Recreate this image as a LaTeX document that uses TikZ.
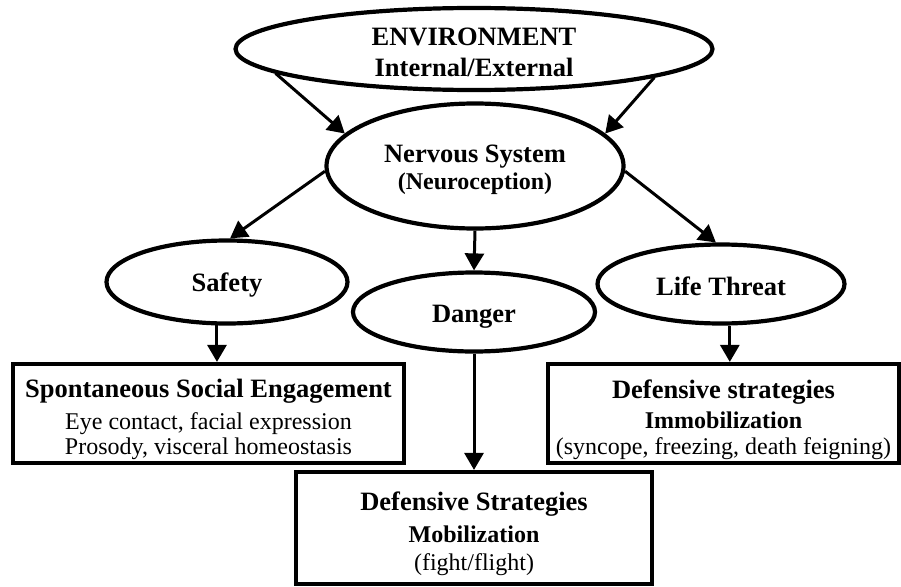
\documentclass[tikz,border=0pt]{standalone}
\usepackage{fontspec}
\setmainfont{Liberation Serif}
\usetikzlibrary{shapes.geometric,arrows.meta}
\newcommand{\bigline}{\fontsize{26.5}{27}\selectfont\bfseries}
\newcommand{\midbold}{\fontsize{24}{27}\selectfont\bfseries}
\newcommand{\midplain}{\fontsize{24}{27}\selectfont\mdseries}
\begin{document}
\begin{tikzpicture}[x=1pt,y=-1pt,
  txt/.style={inner sep=0pt,align=center,font=\fontsize{24}{27}\selectfont},
  oval/.style={ellipse,draw,line width=4.2pt,inner sep=0pt},
  panel/.style={rectangle,draw,line width=4.2pt,inner sep=0pt},
  flow/.style={line width=3pt,-{Triangle[length=17pt,width=19pt]}}]
\useasboundingbox (0,0) rectangle (901,586);

% ellipses, each with its text set at the centre
\node[oval,minimum width=477pt,minimum height=82pt,
  label={[txt,yshift=-3pt]center:{\bigline ENVIRONMENT\\[4pt]\bigline Internal/External}}]
  (env) at (474,49) {};
\node[oval,minimum width=297pt,minimum height=125pt,
  label={[txt,yshift=-4pt]center:{\bigline Nervous System\\[0pt]\midbold (Neuroception)}}]
  (nerv) at (475,166) {};
\node[oval,minimum width=241pt,minimum height=83pt,
  label={[txt,yshift=-3pt]center:{\bigline Safety}}]
  (safety) at (227,282) {};
\node[oval,minimum width=242pt,minimum height=79pt,
  label={[txt,yshift=-5pt]center:{\bigline Danger}}]
  (danger) at (474,312) {};
\node[oval,minimum width=247pt,minimum height=79pt,
  label={[txt,yshift=-2pt]center:{\bigline Life Threat}}]
  (life) at (721,284) {};

% boxes
\node[panel,minimum width=391pt,minimum height=99pt,
  label={[txt,yshift=-6pt]center:{\bigline Spontaneous Social Engagement\\[5pt]
   \midplain Eye contact, facial expression\\[-2pt]
   \midplain Prosody, visceral homeostasis}}]
  (social) at (208.5,413.5) {};
\node[panel,minimum width=356pt,minimum height=112pt,
  label={[txt,yshift=-6pt]center:{\bigline Defensive Strategies\\[5pt]
   \midbold Mobilization\\[1pt]
   \midplain (fight/flight)}}]
  (mobil) at (474,528) {};
\node[panel,minimum width=351pt,minimum height=99pt,
  label={[txt,yshift=-6pt]center:{\bigline Defensive strategies\\[3pt]
   \midbold Immobilization\\[-1pt]
   \midplain (syncope, freezing, death feigning)}}]
  (immob) at (723.5,413.5) {};

% connectors
\draw[flow] (env.187.7) -- (nerv.166.5);
\draw[flow] (env.351.8) -- (nerv.14.7);
\draw[flow] (nerv.182) -- (safety.86);
\draw[flow] (nerv.south) -- (danger.north);
\draw[flow] (nerv.358) -- (life.97);
\draw[flow] (safety.257.7) -- (safety.257.7 |- social.north);
\draw[flow] (danger.south) -- (mobil.north);
\draw[flow] (life.282.8) -- (life.282.8 |- immob.north);
\end{tikzpicture}
\end{document}
